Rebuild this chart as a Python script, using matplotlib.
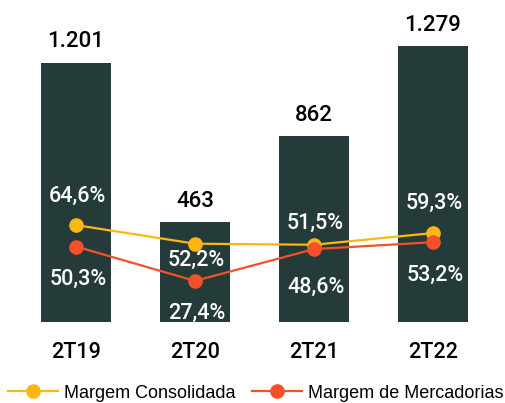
import matplotlib
matplotlib.use('Agg')
import matplotlib.pyplot as plt

# data
periodos = ['2T19', '2T20', '2T21', '2T22']
receita = [1201, 463, 862, 1279]
receita_lbl = ['1.201', '463', '862', '1.279']
margem_cons = [64.6, 52.2, 51.5, 59.3]
margem_merc = [50.3, 27.4, 48.6, 53.2]
cons_lbl = ['64,6%', '52,2%', '51,5%', '59,3%']
merc_lbl = ['50,3%', '27,4%', '48,6%', '53,2%']

barColor = '#243b3a'
yellow = '#fdb713'
red = '#f5502a'
fam = ['Roboto', 'DejaVu Sans']

fig = plt.figure(figsize=(5.06, 4.03), dpi=100)
ax = fig.add_axes([0, 81/403, 1, 322/403])
ax2 = ax.twinx()

x = list(range(len(periodos)))
ax.bar(x, receita, width=70/119, color=barColor, zorder=1)
ax.set_xlim(-76/119, (506-76)/119)
ax.set_ylim(0, 322/0.2157)
ax2.set_ylim(0, 322/1.5)

ax2.plot(x, margem_cons, color=yellow, lw=1.6, marker='o', ms=9.5, label='Margem Consolidada', zorder=3)
ax2.plot(x, margem_merc, color=red, lw=1.6, marker='o', ms=9.5, label='Margem de Mercadorias', zorder=4)

for a in (ax, ax2):
    a.axis('off')

# bar value labels
for i, v in enumerate(receita):
    ax.annotate(receita_lbl[i], (i, v), xytext=(0, 21), textcoords='offset pixels',
                ha='center', va='center', fontsize=16, family=fam, weight='medium')

# percent labels (offsets in pixels)
consOff = [29, -17, 21, 30]
mercOff = [-33, -32, -38, -33]
for i in x:
    ax2.annotate(cons_lbl[i], (i, margem_cons[i]), xytext=(1, consOff[i]), textcoords='offset pixels',
                 ha='center', va='center', fontsize=15.5, color='white', family=fam, weight='medium', zorder=5)
    ax2.annotate(merc_lbl[i], (i, margem_merc[i]), xytext=(2, mercOff[i]), textcoords='offset pixels',
                 ha='center', va='center', fontsize=15.5, color='white', family=fam, weight='medium', zorder=5)

# category labels
for i, p in enumerate(periodos):
    ax.text(i, -31/322, p, transform=ax.get_xaxis_transform(), ha='center', va='center',
            fontsize=15.5, family=fam, weight='medium')

fig.legend(loc='center', bbox_to_anchor=(0.505, 10/403), ncol=2, frameon=False,
           prop={'family': 'Liberation Sans', 'size': 13}, handlelength=2.8,
           handletextpad=0.3, columnspacing=0.9, borderaxespad=0)

fig.savefig('out.png', dpi=100)
